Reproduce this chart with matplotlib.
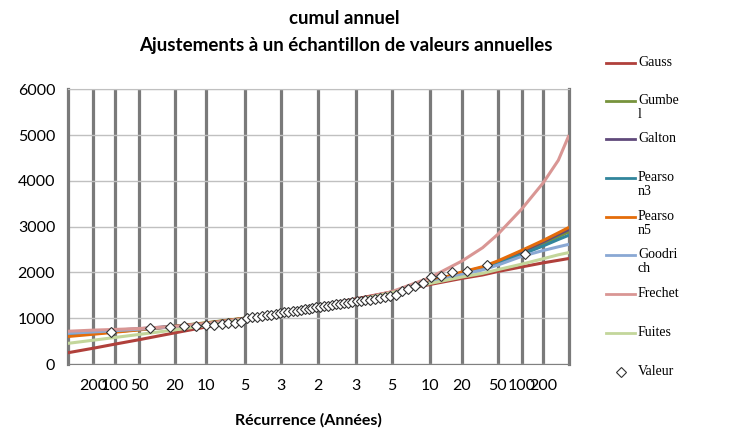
import matplotlib.pyplot as plt
from matplotlib.lines import Line2D
from statistics import NormalDist

# observed annual totals, sorted ascending
valeurs = [695, 785, 810, 828, 832, 842, 848, 866, 890, 905, 915, 1000,
           1020, 1035, 1050, 1065, 1080, 1095, 1110, 1125, 1140, 1155, 1168, 1180,
           1195, 1210, 1225, 1240,
           1252, 1262, 1275, 1288, 1300, 1312, 1325, 1338, 1352, 1366, 1380, 1394,
           1408, 1422, 1440, 1470,
           1485, 1507, 1601, 1631, 1703, 1775, 1905, 1925, 2012, 2024, 2162, 2402]

# non-exceedance probabilities where the fitted curves were read
p_courbes = [0.00205, 1/200, 1/100, 1/50, 1/20, 1/10, 1/5, 1/3, 1/2,
             2/3, 4/5, 9/10, 19/20, 0.97, 49/50, 99/100, 199/200, 0.997, 0.99795]

courbes = {
    "Gauss":    [245, 345, 435, 530, 680, 810, 968, 1117, 1270, 1423, 1575, 1738, 1870, 1945, 2020, 2120, 2210, 2265, 2305],
    "Gumbel":   [622, 666, 705, 751, 827, 901, 1002, 1110, 1240, 1391, 1559, 1790, 1990, 2100, 2215, 2420, 2630, 2780, 2890],
    "Galton":   [690, 715, 740, 770, 825, 890, 995, 1110, 1238, 1383, 1558, 1795, 2000, 2110, 2230, 2450, 2670, 2830, 2940],
    "Pearson3": [660, 690, 720, 755, 815, 885, 995, 1112, 1240, 1385, 1560, 1790, 1985, 2090, 2200, 2390, 2580, 2720, 2815],
    "Pearson5": [600, 650, 695, 745, 820, 895, 1000, 1110, 1240, 1385, 1560, 1800, 2010, 2125, 2250, 2480, 2700, 2865, 2985],
    "Goodrich": [670, 700, 728, 760, 815, 880, 990, 1110, 1240, 1385, 1560, 1780, 1955, 2055, 2160, 2350, 2480, 2560, 2615],
    "Frechet":  [715, 740, 755, 775, 820, 880, 990, 1100, 1235, 1395, 1580, 1890, 2250, 2540, 2830, 3380, 3960, 4450, 5000],
    "Fuites":   [450, 520, 580, 645, 745, 840, 975, 1110, 1250, 1395, 1555, 1760, 1900, 1980, 2060, 2180, 2300, 2385, 2435],
}
couleurs = {
    "Gauss": "#B0403B", "Gumbel": "#77933C", "Galton": "#604A7B",
    "Pearson3": "#31859C", "Pearson5": "#E46C0A", "Goodrich": "#8AA8D4",
    "Frechet": "#D99694", "Fuites": "#C3D69B",
}
noms_legende = {"Gauss": "Gauss", "Gumbel": "Gumbe\nl", "Galton": "Galton",
                "Pearson3": "Pearso\nn3", "Pearson5": "Pearso\nn5",
                "Goodrich": "Goodri\nch", "Frechet": "Frechet", "Fuites": "Fuites"}

periodes_gauche = [200, 100, 50, 20, 10, 5, 3]
periodes_droite = [3, 5, 10, 20, 50, 100, 200]

nd = NormalDist()
n = len(valeurs)
u_obs = [nd.inv_cdf((i + 0.5) / n) for i in range(n)]
u_courbes = [nd.inv_cdf(p) for p in p_courbes]
u_ticks = ([nd.inv_cdf(1 / t) for t in periodes_gauche] + [0.0]
           + [nd.inv_cdf(1 - 1 / t) for t in periodes_droite])
lab_ticks = [str(t) for t in periodes_gauche] + ["2"] + [str(t) for t in periodes_droite]

fig = plt.figure(figsize=(7.5, 4.37), dpi=100)
ax = fig.add_axes([67.7 / 750, 1 - 364 / 437, (569 - 67.7) / 750, (364 - 89.3) / 437])

for nom, vals in courbes.items():
    ax.plot(u_courbes, vals, color=couleurs[nom], lw=2.2, solid_capstyle="butt",
            solid_joinstyle="round", zorder=3)
ax.plot(u_obs, valeurs, ls="none", marker="D", ms=5.3, mfc="white", mec="#333333",
        mew=0.8, zorder=5)

ax.set_xlim(-2.87, 2.87)
ax.set_ylim(0, 6000)
ax.set_yticks(range(0, 6001, 1000))
ax.set_xticks(u_ticks)
ax.set_xticklabels(lab_ticks)
ax.grid(axis="x", color="#7a7a7a", lw=2.3, zorder=1)
ax.grid(axis="y", color="#c0c0c0", lw=1, zorder=1)
ax.tick_params(length=0, labelsize=11.5)
ax.tick_params(axis="x", pad=11)
ax.tick_params(axis="y", pad=9)
for lab in ax.get_xticklabels() + ax.get_yticklabels():
    lab.set_fontfamily("Lato")
for s in ["left", "right"]:
    ax.spines[s].set_color("#7a7a7a")
    ax.spines[s].set_linewidth(2.3)
ax.spines["bottom"].set_color("#808080")
ax.spines["top"].set_color("#c0c0c0")

fig.text(344 / 750, 1 - 18 / 437, "cumul annuel", ha="center", va="center",
         fontsize=13.5, fontweight="bold", family="Lato")
fig.text(346 / 750, 1 - 46 / 437, "Ajustements à un échantillon de valeurs annuelles",
         ha="center", va="center", fontsize=13.5, fontweight="bold", family="Lato")
fig.text(308 / 750, 1 - 420 / 437, "Récurrence (Années)", ha="center", va="center",
         fontsize=11.5, fontweight="bold", family="Lato")

# legend, drawn by hand to keep the Excel-like spacing
y_leg = [62.7, 101, 139, 177.7, 216.7, 255, 294, 333.3]
for (nom, y) in zip(courbes, y_leg):
    fig.add_artist(Line2D([606 / 750, 635 / 750], [1 - y / 437] * 2,
                          color=couleurs[nom], lw=2))
    fig.text(638 / 750, 1 - (y - 7) / 437, noms_legende[nom], ha="left", va="top",
             fontsize=10, family="Liberation Serif", linespacing=1.15)
fig.add_artist(Line2D([621 / 750], [1 - 371.7 / 437], ls="none", marker="D", ms=5,
                      mfc="white", mec="#333333", mew=0.8))
fig.text(638 / 750, 1 - 371.7 / 437, "Valeur", ha="left", va="center",
         fontsize=10, family="Liberation Serif")

fig.savefig("out.png", dpi=100)
